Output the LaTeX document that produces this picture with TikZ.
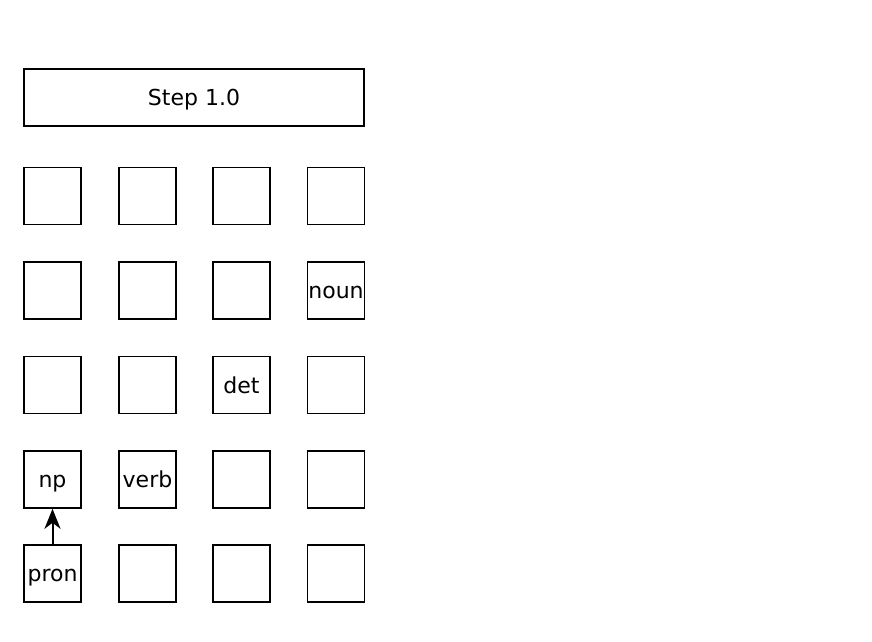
\documentclass[tikz,border=0pt]{standalone}
\usepackage{fontspec}
\setmainfont{DejaVu Sans}
\usetikzlibrary{arrows.meta}
\begin{document}
\begin{tikzpicture}[x=1pt,y=-1pt,
  cell/.style={draw,line width=1.6pt,minimum width=57pt,minimum height=57pt,inner sep=0pt},
  title/.style={draw,line width=1.6pt,minimum width=340pt,minimum height=57pt,inner sep=0pt},
  lbl/.style={font=\fontsize{22}{26}\selectfont,inner sep=0pt,anchor=base},
  link/.style={line width=2pt,-{Stealth[length=20pt,width=16pt,inset=6pt]}}]
\useasboundingbox (0,0) rectangle (872,641);
\node[title] (t) at (194,97.5) {};
\node[lbl] (tl) at ([yshift=-8pt]t.center) {Step 1.0};
\foreach \c/\x in {0/52.5,1/147.5,2/241.5,3/336}{
  \foreach \r/\y in {0/196,1/290.5,2/385,3/479.5,4/573.5}{
    \node[cell] (c\c\r) at (\x,\y) {};
  }
}
\node[lbl] (l31) at ([yshift=-8pt]c31.center) {noun};
\node[lbl] (l22) at ([yshift=-8pt]c22.center) {det};
\node[lbl] (l03) at ([yshift=-8pt]c03.center) {np};
\node[lbl] (l13) at ([yshift=-8pt]c13.center) {verb};
\node[lbl] (l04) at ([yshift=-8pt]c04.center) {pron};
\draw[link] (c04) -- (c03);
\end{tikzpicture}
\end{document}
